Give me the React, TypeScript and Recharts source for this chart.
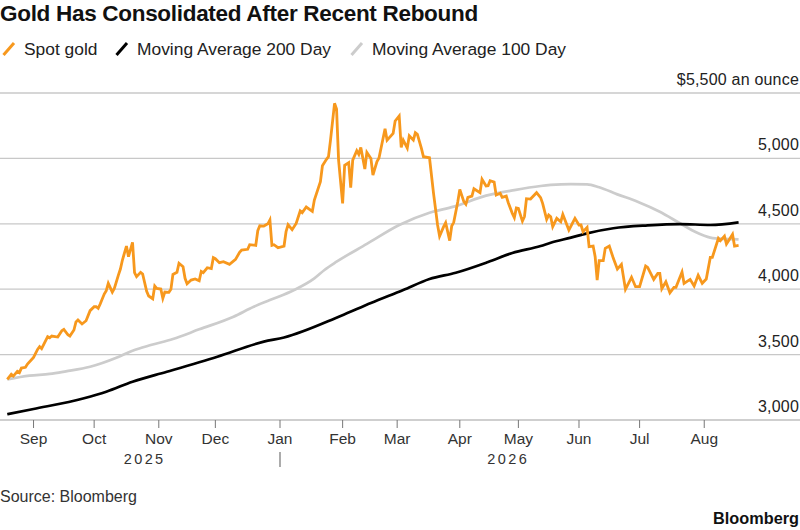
import React from "react";
import { LineChart, Line, XAxis, YAxis, CartesianGrid } from "recharts";

const TITLE = "Gold Has Consolidated After Recent Rebound";
const SOURCE = "Source: Bloomberg";
const BRAND = "Bloomberg";
const FONT = '"Liberation Sans", Arial, sans-serif';

// x values are calendar days counted from 1 Sep 2025
const goldDays = [-13,-11,-10,-8,-7,-6,-4,-3,0,2,3,4,7,8,9,12,14,15,17,18,20,21,22,24,26,28,30,31,32,33,35,36,37,39,40,42,43,44,46,47,49,50,51,53,54,56,57,59,60,61,63,64,65,67,68,69,71,72,74,75,76,78,80,82,83,84,86,88,89,90,92,94,97,100,102,103,106,107,110,111,112,114,116,117,118,119,121,124,125,126,128,130,132,133,135,138,139,142,143,145,146,147,149,150,151,153,154,156,157,158,160,161,162,164,165,167,168,170,171,174,175,178,179,181,182,183,185,186,188,189,190,192,193,196,198,200,201,203,204,206,207,208,210,211,213,214,215,217,218,221,222,224,225,226,228,229,231,232,234,235,237,238,239,240,242,243,244,246,249,251,252,254,255,256,257,259,261,262,265,268,270,271,272,274,275,277,278,279,280,282,283,285,287,289,291,293,296,298,300,303,304,307,309,310,311,313,315,317,318,321,322,325,327,329,331,333,335,336,339,340,342,343,346,347,349];
const goldValues = [3311,3349,3336,3372,3362,3397,3403,3428,3479,3540,3561,3545,3637,3629,3642,3634,3683,3693,3652,3642,3688,3749,3764,3734,3759,3836,3866,3866,3854,3887,3963,3989,4045,3978,4006,4108,4154,4223,4330,4249,4358,4126,4096,4129,4116,3984,3948,3927,4024,4006,4001,3930,3978,3976,3999,4113,4129,4198,4172,4083,4042,4070,4078,4065,4136,4126,4164,4157,4241,4233,4203,4210,4190,4228,4282,4299,4305,4340,4335,4447,4485,4483,4500,4529,4335,4340,4317,4330,4440,4493,4455,4503,4598,4585,4628,4595,4682,4822,4944,4993,5013,5140,5421,5377,4987,4656,4947,4967,4776,4987,5059,5031,5084,4919,5046,5000,4873,4975,5003,5227,5140,5191,5286,5324,5084,5140,5079,5173,5140,5196,5184,5077,5013,5005,4733,4491,4406,4478,4508,4371,4483,4511,4669,4763,4669,4649,4702,4712,4768,4738,4840,4789,4791,4829,4819,4720,4733,4702,4712,4661,4580,4547,4621,4618,4521,4554,4692,4689,4738,4700,4656,4534,4567,4554,4478,4542,4516,4572,4452,4542,4491,4491,4440,4473,4325,4330,4249,4070,4218,4218,4312,4330,4236,4154,4190,3999,4091,4019,4019,4177,4167,4075,4121,4121,4004,4057,3973,4014,4014,4131,4045,4075,4024,4106,4045,4078,4243,4243,4389,4371,4406,4345,4419,4330,4335];

const ma200Days = [-13,0,25,36,49,66,91,114,124,152,167,183,196,209,225,237,251,256,266,274,287,304,320,335,349];
const ma200Values = [3044,3084,3166,3216,3293,3369,3484,3599,3631,3795,3894,3994,4078,4126,4208,4277,4330,4355,4394,4427,4466,4488,4498,4491,4511];

const ma100Days = [-13,-2,8,16,28,41,49,58,69,82,99,109,117,129,139,144,150,165,181,196,208,224,238,251,256,266,274,280,289,299,310,320,328,335,341,349];
const ma100Values = [3311,3339,3352,3372,3407,3476,3530,3573,3619,3693,3790,3866,3917,3994,4083,4147,4210,4346,4491,4585,4631,4715,4758,4789,4797,4804,4802,4779,4725,4669,4592,4504,4435,4394,4384,4381];

const monthTicks = [0,30,62,90,122,153,180,211,240,270,300,332];
const monthLabels = ["Sep","Oct","Nov","Dec","Jan","Feb","Mar","Apr","May","Jun","Jul","Aug"];
const yearTicks = [55,122,235];
const yearLabels = ["2025","|","2026"];
const valueTicks = [3000,3500,4000,4500,5000,5500];
const unitLabel = "$5,500 an ounce";

const seriesNames = ["Spot gold","Moving Average 200 Day","Moving Average 100 Day"];
const seriesColors = ["#f7981d","#000000","#cccccc"];

const toRows = (days: number[], values: number[]) => days.map((day, i) => ({ day, value: values[i] }));
const goldRows = toRows(goldDays, goldValues);
const ma200Rows = toRows(ma200Days, ma200Values);
const ma100Rows = toRows(ma100Days, ma100Values);

const DOMAIN: [number, number] = [-16.6, 379.4];

const ValueTick = (p: any) => {
  const v = p.payload.value;
  const s = v === 5500 ? unitLabel : v.toLocaleString("en-US");
  return (
    <text x={799} y={p.y - 8} textAnchor="end" fontSize={16} letterSpacing={0.2} fontFamily={FONT} fill="#222">
      {s}
    </text>
  );
};

const YearTick = (p: any) => {
  const i = yearTicks.indexOf(p.payload.value);
  if (yearLabels[i] === "|") {
    return <line x1={p.x} x2={p.x} y1={p.y - 6} y2={p.y + 9} stroke="#888" strokeWidth={1.4} />;
  }
  return (
    <text x={p.x} y={p.y + 6} textAnchor="middle" fontSize={14.5} letterSpacing={2.4} fontFamily={FONT} fill="#333">
      {yearLabels[i]}
    </text>
  );
};

const LegendRow = () => {
  const lefts = [2, 115, 350];
  return (
    <>
      {seriesNames.map((name, i) => (
        <div key={name} style={{ position: "absolute", left: lefts[i], top: 38, height: 22, display: "flex", alignItems: "center" }}>
          <svg width={16} height={18} style={{ marginRight: 6 }}>
            <line x1={1.5} y1={15} x2={12} y2={3} stroke={seriesColors[i]} strokeWidth={3} />
          </svg>
          <span style={{ fontFamily: FONT, fontSize: 17.4, color: "#222", whiteSpace: "nowrap" }}>{name}</span>
        </div>
      ))}
    </>
  );
};

export default function App() {
  return (
    <div style={{ position: "absolute", left: 0, top: 0, width: 800, height: 530, background: "#fff", overflow: "hidden" }}>
      <LineChart
        width={800}
        height={530}
        margin={{ top: 93, right: 0, bottom: 60, left: 0 }}
        style={{ position: "absolute", left: 0, top: 0 }}
      >
        <CartesianGrid horizontal vertical={false} stroke="#c8c8c8" strokeWidth={1.3} />
        <XAxis
          type="number"
          dataKey="day"
          domain={DOMAIN}
          allowDataOverflow
          ticks={monthTicks}
          interval={0}
          height={30}
          tickSize={8}
          tickMargin={5}
          stroke="#cccccc"
          axisLine={{ stroke: "#cccccc", strokeWidth: 1.5 }}
          tickLine={{ stroke: "#777", strokeWidth: 1 }}
          tickFormatter={(v: number) => monthLabels[monthTicks.indexOf(v)]}
          tick={{ fontSize: 15.5, fontFamily: FONT, fill: "#333" }}
        />
        <XAxis
          xAxisId="year"
          type="number"
          dataKey="day"
          domain={DOMAIN}
          allowDataOverflow
          ticks={yearTicks}
          interval={0}
          height={20}
          axisLine={false}
          tickLine={false}
          tick={YearTick}
        />
        <YAxis
          orientation="right"
          mirror
          width={60}
          domain={[3000, 5500]}
          ticks={valueTicks}
          interval={0}
          axisLine={false}
          tickLine={false}
          tick={ValueTick}
        />
        <Line data={ma100Rows} dataKey="value" name={seriesNames[2]} stroke={seriesColors[2]} strokeWidth={2.7} dot={false} isAnimationActive={false} type="monotone" />
        <Line data={ma200Rows} dataKey="value" name={seriesNames[1]} stroke={seriesColors[1]} strokeWidth={2.7} dot={false} isAnimationActive={false} type="monotone" />
        <Line data={goldRows} dataKey="value" name={seriesNames[0]} stroke={seriesColors[0]} strokeWidth={2.8} dot={false} isAnimationActive={false} type="linear" />
      </LineChart>
      <div style={{ position: "absolute", left: 0, top: 1, fontFamily: FONT, fontWeight: 700, fontSize: 22.5, letterSpacing: -0.3, color: "#111", whiteSpace: "nowrap", lineHeight: "26px" }}>
        {TITLE}
      </div>
      <LegendRow />
      <div style={{ position: "absolute", left: 0, top: 488, fontFamily: FONT, fontSize: 16, color: "#333", lineHeight: "18px" }}>{SOURCE}</div>
      <div style={{ position: "absolute", right: 1, top: 509, fontFamily: FONT, fontWeight: 700, fontSize: 16.3, color: "#111", lineHeight: "18px" }}>{BRAND}</div>
    </div>
  );
}
